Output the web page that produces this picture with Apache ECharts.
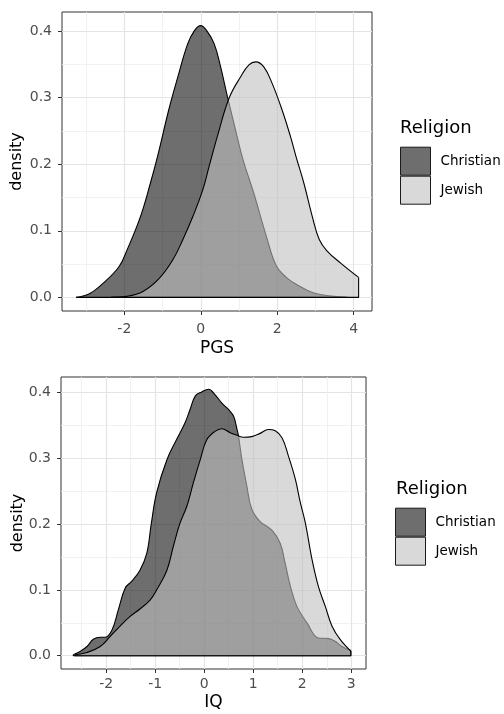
<!DOCTYPE html>
<html>
<head>
<meta charset="utf-8">
<script src="https://cdn.jsdelivr.net/npm/echarts@6/dist/echarts.min.js"></script>
<style>
html,body{margin:0;padding:0;background:#fff;}
#chart{width:504px;height:714px;}
</style>
</head>
<body>
<div id="chart"></div>
<script>
// ---- Data ----
const categories = ['Christian', 'Jewish'];

// Panel 1: PGS densities
const pgsChristianX = [-3.26,-2.9,-2.56,-2.14,-1.93,-1.58,-1.32,-1.12,-0.84,-0.6,-0.34,-0.16,0.0,0.15,0.35,0.52,0.70,0.87,1.09,1.39,1.72,1.98,2.26,2.52,2.96,3.48,3.83];
const pgsChristianY = [0,0.006,0.021,0.046,0.071,0.121,0.171,0.214,0.281,0.331,0.381,0.401,0.408,0.401,0.381,0.346,0.301,0.261,0.21,0.156,0.091,0.047,0.029,0.019,0.0066,0.0015,0];
const pgsJewishX = [-2.35,-1.95,-1.51,-1.08,-0.73,-0.47,-0.21,0.05,0.22,0.44,0.74,1.04,1.26,1.44,1.65,1.87,2.13,2.35,2.50,2.70,2.92,3.10,3.30,3.66,4.13];
const pgsJewishY = [0,0.0015,0.009,0.029,0.0565,0.0865,0.121,0.161,0.197,0.243,0.299,0.331,0.349,0.3536,0.346,0.321,0.281,0.241,0.21,0.171,0.121,0.087,0.070,0.0515,0.030];

// Panel 2: IQ densities
const iqChristianX = [-2.67,-2.53,-2.39,-2.26,-2.12,-2.02,-1.88,-1.75,-1.61,-1.48,-1.31,-1.17,-1.08,-0.97,-0.76,-0.56,-0.39,-0.29,-0.18,-0.05,0.09,0.22,0.36,0.50,0.60,0.67,0.70,0.77,0.87,0.97,1.14,1.38,1.55,1.65,1.76,1.89,2.10,2.33,2.54,2.67,2.81,2.99];
const iqChristianY = [0.0015,0.0065,0.014,0.025,0.028,0.028,0.039,0.070,0.103,0.113,0.130,0.156,0.200,0.248,0.298,0.329,0.354,0.374,0.395,0.401,0.405,0.397,0.384,0.374,0.364,0.344,0.334,0.298,0.258,0.223,0.204,0.191,0.171,0.141,0.105,0.075,0.0495,0.027,0.026,0.022,0.014,0.008];
const iqJewishX = [-2.63,-2.39,-2.12,-1.92,-1.71,-1.51,-1.31,-1.10,-0.97,-0.76,-0.63,-0.50,-0.35,-0.22,-0.08,0.05,0.22,0.36,0.53,0.67,0.80,0.97,1.14,1.31,1.45,1.59,1.72,1.86,1.96,2.06,2.20,2.33,2.47,2.61,2.78,2.99];
const iqJewishY = [0.0015,0.005,0.014,0.029,0.0455,0.0597,0.071,0.085,0.100,0.130,0.166,0.200,0.228,0.263,0.298,0.328,0.341,0.345,0.339,0.335,0.332,0.333,0.338,0.344,0.342,0.331,0.303,0.268,0.233,0.203,0.146,0.105,0.075,0.0445,0.024,0.007];

// Tick labels / grid breaks
const pgsXTicks = [-2, 0, 2, 4];
const pgsXMinor = [-3, -1, 1, 3];
const iqXTicks = [-2, -1, 0, 1, 2, 3];
const iqXMinor = [-2.5, -1.5, -0.5, 0.5, 1.5, 2.5];
const densityTicks = [0, 0.1, 0.2, 0.3, 0.4];
const densityMinor = [0.05, 0.15, 0.25, 0.35];

const axisTitles = { pgs: 'PGS', iq: 'IQ', y: 'density' };
const legendTitle = 'Religion';

// ---- Styles ----
const FONT = 'DejaVu Sans';
const FILL = { Christian: 'rgba(13,13,13,0.6)', Jewish: 'rgba(192,192,192,0.6)' };
const LAYER = { Christian: 2, Jewish: 3 };

function pairs(xs, ys) { return xs.map((x, i) => [x, ys[i]]); }
function closing(xs, ys) {
  const n = xs.length - 1;
  return [[xs[n], ys[n]], [xs[n], 0], [xs[0], 0], [xs[0], ys[0]]];
}

function majorX(gridIndex, min, max, ticks, title, nameGap, labelMargin) {
  return {
    type: 'value', gridIndex, position: 'bottom', min, max,
    axisLine: { show: false, onZero: false },
    axisTick: { show: true, length: 4, customValues: ticks, lineStyle: { color: '#333', width: 1 } },
    axisLabel: { customValues: ticks, margin: labelMargin, color: '#4d4d4d', fontSize: 14, fontFamily: FONT,
      formatter: v => String(v) },
    splitLine: { show: true, lineStyle: { color: '#e4e4e4', width: 1.2 } },
    name: title, nameLocation: 'middle', nameGap, nameMoveOverlap: false,
    nameTextStyle: { fontSize: 17, color: '#000', fontFamily: FONT }
  };
}
function minorX(gridIndex, min, max, vals) {
  return {
    type: 'value', gridIndex, position: 'top', min, max,
    axisLine: { show: false, onZero: false },
    axisTick: { show: false, customValues: vals },
    axisLabel: { show: false, customValues: vals },
    splitLine: { show: true, lineStyle: { color: '#eeeeee', width: 0.8 } }
  };
}
function majorY(gridIndex, min, max, nameGap) {
  return {
    type: 'value', gridIndex, position: 'left', min, max,
    axisLine: { show: false, onZero: false },
    axisTick: { show: true, length: 4, customValues: densityTicks, lineStyle: { color: '#333', width: 1 } },
    axisLabel: { customValues: densityTicks, margin: 10, color: '#4d4d4d', fontSize: 14, fontFamily: FONT,
      formatter: v => v.toFixed(1) },
    splitLine: { show: true, lineStyle: { color: '#e4e4e4', width: 1.2 } },
    name: axisTitles.y, nameLocation: 'middle', nameGap, nameRotate: 90, nameMoveOverlap: false,
    nameTextStyle: { fontSize: 16, color: '#000', fontFamily: FONT }
  };
}
function minorY(gridIndex, min, max) {
  return {
    type: 'value', gridIndex, position: 'right', min, max,
    axisLine: { show: false, onZero: false },
    axisTick: { show: false, customValues: densityMinor },
    axisLabel: { show: false, customValues: densityMinor },
    splitLine: { show: true, lineStyle: { color: '#eeeeee', width: 0.8 } }
  };
}

function areaSeries(name, xi, yi, xs, ys) {
  return {
    type: 'line', name, xAxisIndex: xi, yAxisIndex: yi, data: pairs(xs, ys), z: LAYER[name],
    smooth: 0.4, symbol: 'none', silent: true,
    lineStyle: { color: '#000', width: 1.1 },
    itemStyle: { color: FILL[name] },
    areaStyle: { color: FILL[name], opacity: 1 }
  };
}
function edgeSeries(name, xi, yi, xs, ys) {
  return {
    type: 'line', xAxisIndex: xi, yAxisIndex: yi, data: closing(xs, ys), z: LAYER[name],
    smooth: false, symbol: 'none', silent: true,
    lineStyle: { color: '#000', width: 1.1 }
  };
}

function legendAt(left, top) {
  return {
    left, top, orient: 'vertical', padding: 0, itemGap: 0, itemWidth: 30, itemHeight: 28,
    icon: 'rect', selectedMode: false,
    data: categories.map(c => ({ name: c, icon: 'rect',
      itemStyle: { color: FILL[c], borderColor: '#1a1a1a', borderWidth: 1 } })),
    textStyle: { fontSize: 13.5, color: '#000', fontFamily: FONT, padding: [0, 0, 0, 5] }
  };
}

const option = {
  backgroundColor: '#fff',
  animation: false,
  title: [
    { text: legendTitle, left: 400, top: 119, padding: 0,
      textStyle: { fontSize: 18, fontWeight: 'normal', color: '#000', fontFamily: FONT } },
    { text: legendTitle, left: 396, top: 480.5, padding: 0,
      textStyle: { fontSize: 18, fontWeight: 'normal', color: '#000', fontFamily: FONT } }
  ],
  legend: [legendAt(400, 146.7), legendAt(395, 507.7)],
  grid: [
    { left: 62, top: 12, width: 310, height: 299, show: true, borderColor: '#333', borderWidth: 1,
      backgroundColor: 'transparent', outerBoundsMode: 'none', containLabel: false },
    { left: 61, top: 377, width: 305, height: 292, show: true, borderColor: '#333', borderWidth: 1,
      backgroundColor: 'transparent', outerBoundsMode: 'none', containLabel: false }
  ],
  xAxis: [
    majorX(0, -3.63, 4.48, pgsXTicks, axisTitles.pgs, 29, 11),
    minorX(0, -3.63, 4.48, pgsXMinor),
    majorX(1, -2.92, 3.30, iqXTicks, axisTitles.iq, 25, 8),
    minorX(1, -2.92, 3.30, iqXMinor)
  ],
  yAxis: [
    majorY(0, -0.0204, 0.4285, 37),
    minorY(0, -0.0204, 0.4285),
    majorY(1, -0.0202, 0.4237, 35),
    minorY(1, -0.0202, 0.4237)
  ],
  series: [
    areaSeries('Christian', 0, 0, pgsChristianX, pgsChristianY),
    edgeSeries('Christian', 0, 0, pgsChristianX, pgsChristianY),
    areaSeries('Jewish', 0, 0, pgsJewishX, pgsJewishY),
    edgeSeries('Jewish', 0, 0, pgsJewishX, pgsJewishY),
    areaSeries('Christian', 2, 2, iqChristianX, iqChristianY),
    edgeSeries('Christian', 2, 2, iqChristianX, iqChristianY),
    areaSeries('Jewish', 2, 2, iqJewishX, iqJewishY),
    edgeSeries('Jewish', 2, 2, iqJewishX, iqJewishY)
  ]
};

const chart = echarts.init(document.getElementById('chart'), null, { renderer: 'canvas' });
chart.setOption(option);
</script>
</body>
</html>
